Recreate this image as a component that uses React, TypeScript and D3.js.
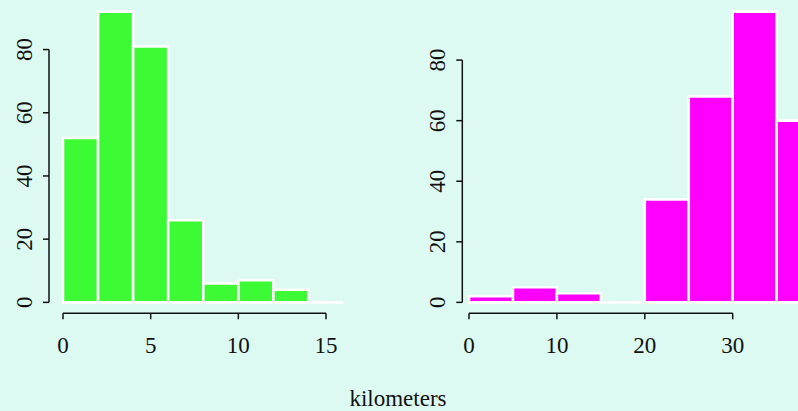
import { useEffect, useRef } from 'react'
import * as d3 from 'd3'

// left histogram: 2 km bins from 0 to 16
const leftBreaks = [0, 2, 4, 6, 8, 10, 12, 14, 16]
const leftCounts = [52, 92, 81, 26, 6, 7, 4, 0]
const leftXTicks = [0, 5, 10, 15]

// right histogram: 5 km bins, the last one runs off the picture
const rightBreaks = [0, 5, 10, 15, 20, 25, 30, 35, 40]
const rightCounts = [2, 5, 3, 0, 34, 68, 96, 60]
const rightXTicks = [0, 10, 20, 30]

const yTicks = [0, 20, 40, 60, 80]

const W = 798
const H = 411
const BG = '#dcfaf2'
const FONT = 'Liberation Serif, Tinos, Times, DejaVu Serif, serif'
const FS = 23

type Panel = {
  breaks: number[]
  counts: number[]
  xTicks: number[]
  color: string
  axisX: number
  xRange: [number, number]
  xDomain: [number, number]
}

const panels: Panel[] = [
  { breaks: leftBreaks, counts: leftCounts, xTicks: leftXTicks, color: '#3cfb35', axisX: 49, xDomain: [0, 15], xRange: [63, 326] },
  { breaks: rightBreaks, counts: rightCounts, xTicks: rightXTicks, color: '#ff00ff', axisX: 462.3, xDomain: [0, 30], xRange: [469, 732.7] },
]

export default function App() {
  const ref = useRef<SVGSVGElement | null>(null)

  useEffect(() => {
    const svg = d3.select(ref.current)
    svg.selectAll('*').remove()

    svg.append('rect').attr('width', W).attr('height', H).attr('fill', BG)

    const plotTop = 0
    const plotBottom = 314
    const xAxisY = 313.3

    panels.forEach((p) => {
      const m = d3.max(p.counts) || 1
      const y = d3.scaleLinear().domain([-0.04 * m, 1.04 * m]).range([plotBottom, plotTop])
      const x = d3.scaleLinear().domain(p.xDomain).range(p.xRange)
      const g = svg.append('g')

      const bins = p.counts.map((c, i) => ({ x0: p.breaks[i], x1: p.breaks[i + 1], c }))

      g.selectAll('path.bar')
        .data(bins)
        .join('path')
        .attr('class', 'bar')
        .attr('d', (d) => {
          const x0 = x(d.x0)
          const x1 = x(d.x1)
          const y0 = y(0)
          const y1 = y(d.c)
          return `M${x0},${y0}L${x0},${y1}L${x1},${y1}L${x1},${y0}Z`
        })
        .attr('fill', p.color)
        .attr('stroke', 'white')
        .attr('stroke-width', 2.6)
        .attr('stroke-linejoin', 'miter')

      // y axis
      const ya = g.append('g').attr('stroke', '#111').attr('stroke-width', 1.5).attr('fill', 'none')
      ya.append('line')
        .attr('x1', p.axisX).attr('x2', p.axisX)
        .attr('y1', y(yTicks[0])).attr('y2', y(yTicks[yTicks.length - 1]))
      ya.selectAll('line.tick')
        .data(yTicks)
        .join('line')
        .attr('class', 'tick')
        .attr('x1', p.axisX).attr('x2', p.axisX - 6)
        .attr('y1', (d) => y(d)).attr('y2', (d) => y(d))

      g.selectAll('text.ylab')
        .data(yTicks)
        .join('text')
        .attr('class', 'ylab')
        .attr('transform', (d) => `translate(${p.axisX - 17},${y(d)}) rotate(-90)`)
        .attr('text-anchor', 'middle')
        .style('font-family', FONT)
        .attr('font-size', FS)
        .attr('fill', '#111')
        .text((d) => d)

      // x axis
      const xa = g.append('g').attr('stroke', '#111').attr('stroke-width', 1.5).attr('fill', 'none')
      xa.append('line')
        .attr('x1', x(p.xTicks[0])).attr('x2', x(p.xTicks[p.xTicks.length - 1]))
        .attr('y1', xAxisY).attr('y2', xAxisY)
      xa.selectAll('line.tick')
        .data(p.xTicks)
        .join('line')
        .attr('class', 'tick')
        .attr('x1', (d) => x(d)).attr('x2', (d) => x(d))
        .attr('y1', xAxisY).attr('y2', xAxisY + 6)

      g.selectAll('text.xlab')
        .data(p.xTicks)
        .join('text')
        .attr('class', 'xlab')
        .attr('x', (d) => x(d))
        .attr('y', xAxisY + 39.5)
        .attr('text-anchor', 'middle')
        .style('font-family', FONT)
        .attr('font-size', FS)
        .attr('fill', '#111')
        .text((d) => d)
    })

    svg.append('text')
      .attr('x', 398)
      .attr('y', 406)
      .attr('text-anchor', 'middle')
      .style('font-family', FONT)
      .attr('font-size', FS)
      .attr('fill', '#111')
      .text('kilometers')
  }, [])

  return (
    <svg
      ref={ref}
      width={W}
      height={H}
      style={{ position: 'absolute', left: 0, top: 0, display: 'block' }}
    />
  )
}
